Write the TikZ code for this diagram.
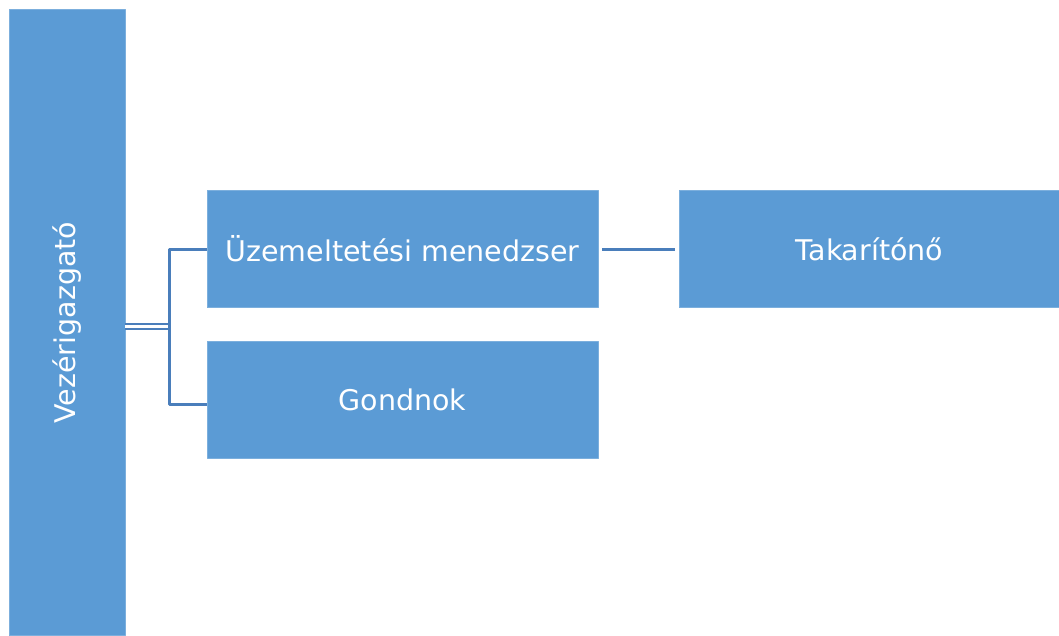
\documentclass[tikz,border=0pt]{standalone}
\usepackage{fontspec}
\setmainfont{DejaVu Sans}
\definecolor{boxblue}{HTML}{5B9BD5}
\definecolor{lineblue}{HTML}{4A7EBB}
\begin{document}
\begin{tikzpicture}[x=1pt,y=-1pt, font=\fontsize{28.5}{32}\selectfont, line join=round,
	box/.style={fill=boxblue, draw=boxblue!80!white, text=white, inner sep=0pt, minimum width=391, minimum height=117},
	link/.style={lineblue, line width=3pt}]
		\useasboundingbox (0,0) rectangle (1059,635);
		%\draw[color=gray!50,dashed] (0,0) grid[step=50] (1059,635);
		\node[box, rotate=90, minimum width=626, minimum height=116] (vez) at (67,322.5) {Vezérigazgató};
		\node[box] (uzem) at (402.5,249) {Üzemeltetési menedzser};
		\node[box] (gond) at (402.5,399.5) {Gondnok};
		\node[box, minimum width=381] (takar) at (869.5,249) {Takarítónő};
		\coordinate (jn) at (169,326.5);
		\coordinate (gin) at ([yshift=-4.5]gond.west);
		\draw[link, double=white, double distance=2.4pt, line width=2.6pt] (vez.south |- jn) -- (jn);
		\draw[link] (uzem.west) -- (jn |- uzem) -- (jn |- gin) -- (gin);
		\draw[link] ([xshift=4]uzem.east) -- ([xshift=-4]takar.west);
	\end{tikzpicture}
\end{document}
